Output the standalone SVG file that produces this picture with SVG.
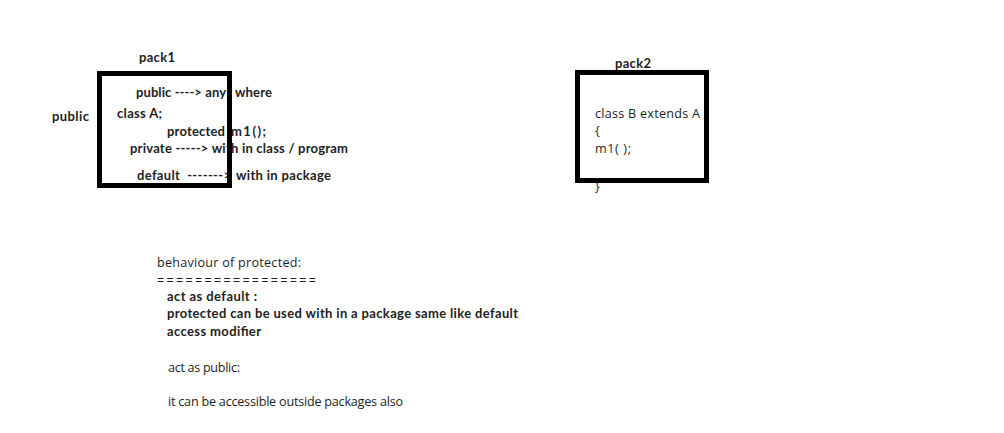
<svg xmlns="http://www.w3.org/2000/svg" width="1004" height="433" viewBox="0 0 1004 433">
<style>
text{fill:#1e1e1e;font-size:13px;}
.b{font-family:Lato,"Liberation Sans",sans-serif;font-weight:bold;}
.n{font-family:"Open Sans","Noto Sans",sans-serif;font-size:12.6px;}
.box{fill:none;stroke:#000;stroke-width:5;}
</style>
<rect width="1004" height="433" fill="#fff"/>
<g id="pack1">
<text class="b" x="139" y="62" textLength="36">pack1</text>
<text class="b" x="136" y="97" textLength="90">public ----&gt; any</text>
<text class="b" x="235" y="97" textLength="37">where</text>
<text class="b" x="52" y="121" textLength="37">public</text>
<text class="b" x="117" y="118" textLength="45">class A;</text>
<text class="b" x="167" y="136" textLength="58">protected</text>
<text class="b" x="231" y="136" textLength="35">m1();</text>
<text class="b" x="130" y="153" textLength="218">private -----&gt; with in class / program</text>
<text class="b" x="137" y="180" textLength="94" xml:space="preserve">default  -------&gt;</text>
<text class="b" x="236" y="180" textLength="95">with in package</text>
<rect class="box" x="99.5" y="73.5" width="130" height="112"/>
</g>
<g id="pack2">
<text class="b" x="615" y="68" textLength="36">pack2</text>
<text class="n" x="595" y="118" textLength="105">class B extends A</text>
<text class="n" x="595" y="135">{</text>
<text class="n" x="595" y="153" textLength="36">m1( );</text>
<text class="n" x="595" y="191">}</text>
<rect class="box" x="577.5" y="72.5" width="129" height="108"/>
</g>
<g id="notes">
<text class="n" x="157" y="267" textLength="144">behaviour of protected:</text>
<text class="n" x="157" y="285" textLength="159">=================</text>
<text class="b" x="167" y="301" textLength="90">act as default :</text>
<text class="b" x="167" y="318" textLength="351">protected can be used with in a package same like default</text>
<text class="b" x="167" y="336" textLength="94">access modifier</text>
<text class="n" x="168" y="372" textLength="72">act as public:</text>
<text class="n" x="168" y="406" textLength="235">it can be accessible outside packages also</text>
</g>
<g id="connectors"></g>
</svg>
